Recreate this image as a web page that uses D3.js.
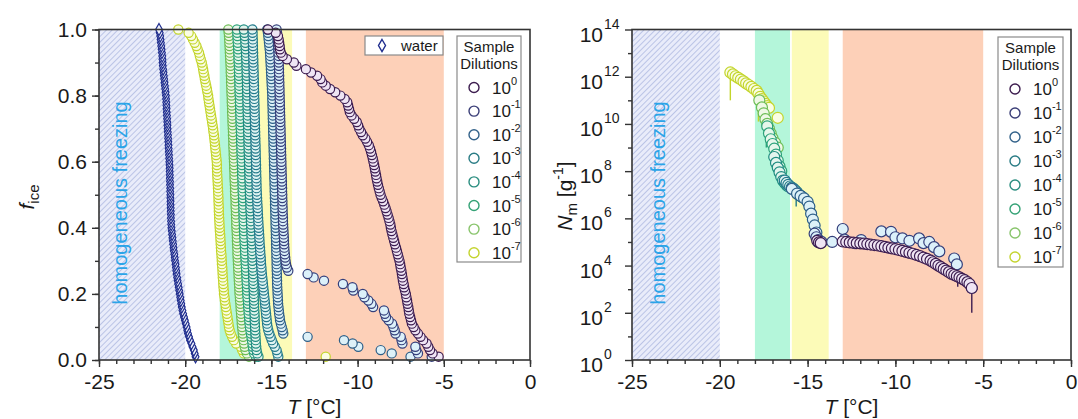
<!DOCTYPE html>
<html>
<head>
<meta charset="utf-8">
<script src="https://cdn.jsdelivr.net/npm/d3@7"></script>
<style>
  html, body { margin: 0; padding: 0; background: #fff; }
  svg { display: block; font-family: Arial, "Liberation Sans", sans-serif; }
</style>
</head>
<body>
<svg id="chart" width="1078" height="419"></svg>
<script>
// ---------- data ----------
// dilution labels (exponents of 10)
const dilutionExponents = ["0", "-1", "-2", "-3", "-4", "-5", "-6", "-7"];

// freezing temperatures of individual droplets (°C), warmest first
const waterTemps = [-19.40,-19.45,-19.50,-19.58,-19.64,-19.72,-19.78,-19.84,-19.88,-19.92,
  -19.97,-20.02,-20.07,-20.12,-20.16,-20.20,-20.23,-20.26,-20.29,-20.32,
  -20.35,-20.38,-20.41,-20.44,-20.47,-20.50,-20.52,-20.54,-20.56,-20.59,
  -20.61,-20.63,-20.66,-20.68,-20.70,-20.72,-20.74,-20.76,-20.78,-20.80,
  -20.81,-20.82,-20.83,-20.83,-20.84,-20.84,-20.85,-20.85,-20.86,-20.86,
  -20.87,-20.87,-20.88,-20.88,-20.89,-20.89,-20.90,-20.90,-20.91,-20.92,
  -20.93,-20.94,-20.95,-20.96,-20.97,-20.98,-20.99,-21.00,-21.01,-21.02,
  -21.03,-21.04,-21.05,-21.06,-21.07,-21.08,-21.09,-21.10,-21.11,-21.12,
  -21.14,-21.16,-21.18,-21.20,-21.22,-21.24,-21.26,-21.28,-21.30,-21.31,
  -21.32,-21.33,-21.35,-21.37,-21.39,-21.41,-21.43,-21.45,-21.48,-21.52];

const temps_d0 = [-5.30,-5.65,-5.80,-5.90,-6.00,-6.20,-6.35,-6.50,-6.65,-6.75,
  -6.85,-6.90,-6.95,-7.00,-7.03,-7.06,-7.10,-7.13,-7.17,-7.20,
  -7.25,-7.30,-7.33,-7.37,-7.40,-7.43,-7.46,-7.50,-7.53,-7.57,
  -7.62,-7.67,-7.72,-7.77,-7.83,-7.88,-7.93,-7.98,-8.03,-8.07,
  -8.10,-8.15,-8.20,-8.26,-8.32,-8.38,-8.45,-8.52,-8.60,-8.67,
  -8.72,-8.77,-8.82,-8.86,-8.90,-8.93,-8.97,-9.00,-9.04,-9.08,
  -9.12,-9.17,-9.22,-9.28,-9.35,-9.45,-9.55,-9.70,-9.80,-9.90,
  -9.97,-10.05,-10.20,-10.35,-10.45,-10.50,-10.55,-10.60,-10.75,-11.00,
  -11.30,-11.60,-11.85,-12.05,-12.15,-12.35,-12.70,-13.00,-13.55,-13.70,
  -14.10,-14.35,-14.45,-14.50,-14.52,-14.55,-14.58,-14.62,-14.75,-15.20];

const temps_d1 = [-5.70,-6.50,-6.60,-6.65,-7.40,-7.45,-7.50,-7.80,-7.85,-7.92,
  -8.00,-8.20,-8.35,-8.42,-8.47,-9.10,-9.20,-9.38,-9.60,-9.70,
  -10.25,-10.30,-10.85,-11.95,-12.55,-12.90,-14.02,-14.10,-14.15,-14.18,
  -14.20,-14.22,-14.24,-14.25,-14.26,-14.27,-14.28,-14.29,-14.30,-14.31,
  -14.32,-14.33,-14.33,-14.34,-14.35,-14.35,-14.36,-14.36,-14.37,-14.37,
  -14.38,-14.38,-14.39,-14.39,-14.40,-14.40,-14.41,-14.41,-14.42,-14.42,
  -14.43,-14.43,-14.44,-14.44,-14.45,-14.45,-14.46,-14.46,-14.47,-14.47,
  -14.48,-14.48,-14.49,-14.49,-14.50,-14.50,-14.51,-14.51,-14.52,-14.52,
  -14.53,-14.53,-14.54,-14.54,-14.55,-14.55,-14.56,-14.56,-14.57,-14.57,
  -14.58,-14.58,-14.59,-14.60,-14.61,-14.62,-14.63,-14.65,-14.67,-14.70];

const temps_d2 = [-6.93,-8.02,-8.66,-9.96,-10.29,-10.79,-12.90,-14.31,-14.35,-14.40,
  -14.45,-14.50,-14.52,-14.55,-14.57,-14.59,-14.61,-14.62,-14.63,-14.64,
  -14.65,-14.66,-14.67,-14.67,-14.68,-14.68,-14.69,-14.69,-14.70,-14.70,
  -14.71,-14.71,-14.72,-14.72,-14.73,-14.73,-14.74,-14.74,-14.75,-14.75,
  -14.76,-14.76,-14.77,-14.77,-14.78,-14.78,-14.79,-14.79,-14.80,-14.80,
  -14.81,-14.81,-14.82,-14.82,-14.83,-14.83,-14.84,-14.84,-14.85,-14.85,
  -14.86,-14.86,-14.87,-14.87,-14.88,-14.88,-14.89,-14.89,-14.90,-14.90,
  -14.91,-14.91,-14.92,-14.92,-14.93,-14.93,-14.94,-14.94,-14.95,-14.95,
  -14.96,-14.97,-14.98,-14.99,-15.00,-15.01,-15.02,-15.03,-15.04,-15.05,
  -15.06,-15.07,-15.08,-15.10,-15.12,-15.14,-15.16,-15.18,-15.20,-15.24];

const temps_d3 = [-14.60,-14.65,-14.70,-14.80,-14.90,-14.98,-15.05,-15.12,-15.18,-15.22,
  -15.25,-15.27,-15.29,-15.31,-15.33,-15.35,-15.37,-15.39,-15.41,-15.43,
  -15.45,-15.47,-15.49,-15.51,-15.53,-15.55,-15.57,-15.58,-15.60,-15.61,
  -15.62,-15.64,-15.65,-15.66,-15.68,-15.69,-15.70,-15.71,-15.72,-15.74,
  -15.75,-15.76,-15.77,-15.78,-15.79,-15.80,-15.81,-15.82,-15.83,-15.84,
  -15.85,-15.86,-15.86,-15.87,-15.87,-15.88,-15.88,-15.89,-15.89,-15.90,
  -15.90,-15.91,-15.91,-15.92,-15.92,-15.93,-15.93,-15.94,-15.94,-15.95,
  -15.95,-15.96,-15.96,-15.97,-15.97,-15.98,-15.98,-15.99,-15.99,-16.00,
  -16.00,-16.01,-16.01,-16.02,-16.02,-16.03,-16.03,-16.04,-16.04,-16.05,
  -16.05,-16.06,-16.06,-16.07,-16.07,-16.08,-16.08,-16.09,-16.09,-16.10];

const temps_d4 = [-15.75,-15.82,-15.86,-15.88,-15.90,-15.91,-15.92,-15.93,-15.94,-15.95,
  -15.96,-15.97,-15.97,-15.98,-15.99,-16.00,-16.00,-16.01,-16.02,-16.02,
  -16.03,-16.04,-16.04,-16.05,-16.06,-16.06,-16.07,-16.08,-16.09,-16.10,
  -16.10,-16.11,-16.12,-16.13,-16.13,-16.14,-16.15,-16.16,-16.16,-16.17,
  -16.18,-16.19,-16.19,-16.20,-16.21,-16.22,-16.22,-16.23,-16.24,-16.25,
  -16.25,-16.26,-16.26,-16.27,-16.28,-16.28,-16.29,-16.29,-16.30,-16.30,
  -16.31,-16.31,-16.32,-16.32,-16.33,-16.33,-16.34,-16.34,-16.35,-16.35,
  -16.36,-16.36,-16.37,-16.37,-16.38,-16.38,-16.39,-16.39,-16.40,-16.40,
  -16.41,-16.41,-16.42,-16.42,-16.43,-16.43,-16.44,-16.44,-16.45,-16.45,
  -16.46,-16.47,-16.48,-16.49,-16.50,-16.51,-16.52,-16.54,-16.56,-16.60];

const temps_d5 = [-15.90,-16.00,-16.05,-16.08,-16.10,-16.13,-16.16,-16.19,-16.22,-16.25,
  -16.27,-16.29,-16.30,-16.32,-16.33,-16.35,-16.36,-16.37,-16.39,-16.40,
  -16.41,-16.42,-16.43,-16.44,-16.45,-16.46,-16.47,-16.48,-16.49,-16.50,
  -16.51,-16.52,-16.53,-16.54,-16.55,-16.56,-16.57,-16.58,-16.59,-16.60,
  -16.60,-16.61,-16.62,-16.62,-16.63,-16.63,-16.64,-16.65,-16.65,-16.66,
  -16.67,-16.67,-16.68,-16.68,-16.69,-16.70,-16.70,-16.71,-16.71,-16.72,
  -16.73,-16.73,-16.74,-16.74,-16.75,-16.76,-16.76,-16.77,-16.77,-16.78,
  -16.79,-16.79,-16.80,-16.80,-16.81,-16.82,-16.82,-16.83,-16.83,-16.84,
  -16.85,-16.85,-16.86,-16.86,-16.87,-16.88,-16.88,-16.89,-16.89,-16.90,
  -16.91,-16.91,-16.92,-16.93,-16.94,-16.95,-16.96,-16.97,-16.98,-17.00];

const temps_d6 = [-16.30,-16.42,-16.50,-16.55,-16.58,-16.61,-16.64,-16.66,-16.68,-16.70,
  -16.72,-16.73,-16.75,-16.76,-16.78,-16.79,-16.80,-16.82,-16.83,-16.85,
  -16.86,-16.87,-16.88,-16.89,-16.90,-16.91,-16.92,-16.93,-16.94,-16.95,
  -16.96,-16.97,-16.97,-16.98,-16.99,-17.00,-17.00,-17.01,-17.02,-17.03,
  -17.04,-17.04,-17.05,-17.06,-17.06,-17.07,-17.08,-17.08,-17.09,-17.10,
  -17.11,-17.11,-17.12,-17.13,-17.14,-17.14,-17.15,-17.16,-17.16,-17.17,
  -17.18,-17.19,-17.19,-17.20,-17.21,-17.21,-17.22,-17.23,-17.23,-17.24,
  -17.25,-17.26,-17.26,-17.27,-17.28,-17.28,-17.29,-17.30,-17.30,-17.31,
  -17.32,-17.32,-17.33,-17.34,-17.34,-17.35,-17.36,-17.36,-17.37,-17.38,
  -17.39,-17.40,-17.41,-17.42,-17.43,-17.44,-17.45,-17.46,-17.48,-17.50];

const temps_d7 = [-11.85,-16.60,-16.70,-16.78,-17.05,-17.18,-17.28,-17.36,-17.42,-17.46,
  -17.49,-17.52,-17.55,-17.58,-17.61,-17.64,-17.67,-17.70,-17.72,-17.75,
  -17.76,-17.78,-17.79,-17.80,-17.82,-17.83,-17.84,-17.85,-17.87,-17.88,
  -17.89,-17.90,-17.92,-17.93,-17.94,-17.95,-17.96,-17.97,-17.99,-18.00,
  -18.01,-18.02,-18.03,-18.04,-18.05,-18.05,-18.06,-18.07,-18.07,-18.08,
  -18.09,-18.10,-18.11,-18.12,-18.13,-18.14,-18.15,-18.16,-18.16,-18.17,
  -18.19,-18.21,-18.23,-18.25,-18.27,-18.29,-18.31,-18.33,-18.36,-18.38,
  -18.41,-18.44,-18.47,-18.50,-18.53,-18.56,-18.59,-18.62,-18.65,-18.67,
  -18.71,-18.74,-18.78,-18.82,-18.86,-18.89,-18.93,-18.96,-19.00,-19.04,
  -19.10,-19.15,-19.20,-19.28,-19.35,-19.45,-19.55,-19.65,-19.80,-20.40];

const freezeTemps = [temps_d0, temps_d1, temps_d2, temps_d3, temps_d4, temps_d5, temps_d6, temps_d7];

// ice-nucleating mass sites: [T (°C), log10 Nm (g^-1)] per dilution
const nm_d0 = [[-14.45,5.05],[-14.35,4.98],[-14.25,4.95],[-13.0,5.02],[-12.8,5.0],[-12.6,4.98],[-12.4,4.97],[-12.2,4.95],
  [-12.0,4.94],[-11.8,4.93],[-11.6,4.91],[-11.4,4.89],[-11.2,4.87],[-11.0,4.85],[-10.8,4.82],[-10.6,4.79],
  [-10.4,4.76],[-10.2,4.73],[-10.0,4.70],[-9.8,4.66],[-9.6,4.62],[-9.4,4.58],[-9.2,4.54],[-9.0,4.50],
  [-8.8,4.45],[-8.6,4.40],[-8.4,4.34],[-8.2,4.28],[-8.0,4.21],[-7.85,4.14],[-7.7,4.07],[-7.55,4.00],
  [-7.4,3.93],[-7.25,3.86],[-7.1,3.79],[-6.95,3.72],[-6.8,3.65],[-6.65,3.60],[-6.5,3.55],[-6.35,3.50],
  [-6.2,3.44],[-6.05,3.38],[-5.9,3.30],[-5.78,3.22],[-5.65,3.05]];
const nm_d1 = [[-14.6,5.35],[-14.5,5.2],[-14.4,5.08],[-14.2,5.0],[-13.6,5.0],[-13.0,5.55],[-12.9,5.1],
  [-12.3,4.95],[-11.95,5.08],[-10.8,5.45],[-10.25,5.43],[-10.0,5.2],[-9.6,5.15],[-9.2,5.05],[-8.65,5.15],
  [-8.4,4.95],[-8.07,5.0],[-7.8,4.78],[-7.5,4.6],[-6.65,4.3],[-6.5,4.05],[-5.65,3.05]];
const nm_d2 = [[-15.9,7.25],[-15.6,7.05],[-15.4,6.95],[-15.2,6.85],[-15.0,6.7],[-14.9,6.5],[-14.8,6.2],
  [-14.7,5.95],[-14.6,5.7],[-14.5,5.4],[-14.45,5.15],[-14.4,5.0],[-14.3,5.0]];
const nm_d3 = [[-16.3,7.6],[-16.2,7.5],[-16.1,7.42],[-16.0,7.35],[-15.9,7.3],[-15.8,7.25],[-15.7,7.18],
  [-15.6,7.1],[-15.5,7.0],[-15.4,6.95],[-15.3,6.9]];
const nm_d4 = [[-16.9,8.6],[-16.8,8.35],[-16.7,8.15],[-16.6,7.95],[-16.5,7.75],[-16.4,7.6],[-16.3,7.5],
  [-16.2,7.42],[-16.1,7.35]];
const nm_d5 = [[-17.3,9.9],[-17.2,9.6],[-17.1,9.35],[-17.0,9.15],[-16.9,8.95],[-16.8,8.7],[-16.7,8.45],
  [-16.6,8.2],[-16.5,8.0]];
const nm_d6 = [[-17.75,11.0],[-17.6,10.7],[-17.5,10.45],[-17.4,10.2],[-17.3,10.0],[-17.2,9.8],[-17.1,9.6],
  [-17.0,9.4],[-16.85,9.2],[-16.7,9.0]];
const nm_d7 = [[-19.4,12.18],[-19.25,12.1],[-19.1,12.02],[-18.95,11.95],[-18.8,11.88],[-18.65,11.8],
  [-18.5,11.72],[-18.35,11.65],[-18.2,11.57],[-18.05,11.48],[-17.9,11.4],[-17.8,11.28],[-17.7,11.15],
  [-17.6,11.05],[-17.5,10.95],[-17.4,10.85],[-17.3,10.75],[-17.2,10.68],[-16.7,10.26]];
const nmSeries = [nm_d0, nm_d1, nm_d2, nm_d3, nm_d4, nm_d5, nm_d6, nm_d7];

// error bars: [dilution index, T, log10 lower, log10 upper]
const nmErrors = [[7,-19.4,11.0,12.18],[7,-17.8,10.1,11.2],[5,-17.35,9.0,9.6],[3,-15.65,6.5,6.9],
  [2,-13.75,4.8,5.05],[0,-6.45,3.1,3.7],[0,-5.65,2.0,3.05]];

// temperature regimes shaded behind the data
const hatchRange = [-25, -20];
const bands = [[-18, -16, "#b4f6da"], [-15.9, -13.8, "#fcfbb8"], [-13, -5, "#fdd0b8"]];

const xTicks = [-25, -20, -15, -10, -5, 0];
const fTicks = [0, 0.2, 0.4, 0.6, 0.8, 1.0];
const nmTickExps = [0, 2, 4, 6, 8, 10, 12, 14];

// ---------- styling ----------
const strokeColors = ["#3c1c50", "#343f7b", "#2d5f88", "#237a8b", "#1f8c80", "#2ba27a", "#6dbd55", "#c3d52b"];
const fillColors   = ["#efe5f4", "#dcf1fa", "#ddf1f8", "#e0f4f3", "#e3f5ee", "#e7f7eb", "#eff8e6", "#fafde4"];
const legendStroke = ["#3d1d4f", "#3b3f78", "#33628a", "#2a7c85", "#2b8e80", "#35a276", "#88c46b", "#c4d42f"];

const svg = d3.select("#chart");
const defs = svg.append("defs");
const pat = defs.append("pattern").attr("id", "hatch").attr("patternUnits", "userSpaceOnUse")
  .attr("width", 4).attr("height", 4).attr("patternTransform", "rotate(45)");
pat.append("rect").attr("width", 4).attr("height", 4).attr("fill", "#e9ecfa");
pat.append("line").attr("x1", 0).attr("y1", 0).attr("x2", 0).attr("y2", 4)
  .attr("stroke", "#a3aedb").attr("stroke-width", 1.3);

const plotTop = 29.5, plotBottom = 360;
const xL = d3.scaleLinear([-25, 0], [99, 530]);
const yL = d3.scaleLinear([0, 1], [plotBottom, plotTop]);
const xR = d3.scaleLinear([-25, 0], [632, 1071]);
const yR = d3.scaleLog([1, 1e14], [plotBottom, plotTop]);
const tickFont = 21;

function shading(g, x) {
  g.append("rect").attr("x", x(hatchRange[0])).attr("width", x(hatchRange[1]) - x(hatchRange[0]))
    .attr("y", plotTop).attr("height", plotBottom - plotTop).attr("fill", "url(#hatch)");
  bands.forEach(b => g.append("rect").attr("x", x(b[0])).attr("width", x(b[1]) - x(b[0]))
    .attr("y", plotTop).attr("height", plotBottom - plotTop).attr("fill", b[2]));
}

function frameAndXAxis(g, x) {
  const ax = g.append("g").attr("transform", `translate(0,${plotBottom})`)
    .call(d3.axisBottom(x).tickValues(d3.range(-25, 0.5, 1)).tickSize(4).tickFormat(""));
  ax.selectAll(".domain").remove();
  ax.selectAll("line").attr("stroke", "#333").attr("stroke-width", 1.4);
  const ax2 = g.append("g").attr("transform", `translate(0,${plotBottom})`)
    .call(d3.axisBottom(x).tickValues(xTicks).tickSize(7).tickPadding(7).tickFormat(d => String(d)));
  ax2.selectAll(".domain").remove();
  ax2.selectAll("line").attr("stroke", "#333").attr("stroke-width", 1.4);
  ax2.selectAll("text").attr("font-size", tickFont).attr("fill", "#1a1a1a").attr("font-family", "Arial, Liberation Sans");
  g.append("rect").attr("x", x(-25)).attr("y", plotTop).attr("width", x(0) - x(-25)).attr("height", plotBottom - plotTop)
    .attr("fill", "none").attr("stroke", "#333").attr("stroke-width", 1.6);
  g.append("text").attr("x", (x(-25) + x(0)) / 2).attr("y", 414).attr("text-anchor", "middle")
    .attr("font-size", 21).attr("fill", "#1a1a1a")
    .call(t => { t.append("tspan").attr("font-style", "italic").text("T"); t.append("tspan").text(" [°C]"); });
}

function homogeneousLabel(g, x) {
  g.append("text").attr("transform", `translate(${x},203) rotate(-90)`).attr("text-anchor", "middle")
    .attr("font-size", 20).attr("fill", "#2ba4e8").text("homogeneous freezing");
}

function dilutionLegend(g, x0, y0, w, h, rowY0, rowStep) {
  g.append("rect").attr("x", x0).attr("y", y0).attr("width", w).attr("height", h)
    .attr("fill", "#fff").attr("stroke", "#8a8a8a").attr("stroke-width", 1.2);
  g.append("text").attr("x", x0 + w / 2).attr("y", y0 + 16).attr("text-anchor", "middle")
    .attr("font-size", 15).attr("fill", "#1a1a1a").text("Sample");
  g.append("text").attr("x", x0 + w / 2).attr("y", y0 + 33).attr("text-anchor", "middle")
    .attr("font-size", 15).attr("fill", "#1a1a1a").text("Dilutions");
  dilutionExponents.forEach((e, i) => {
    const cy = rowY0 + i * rowStep;
    g.append("circle").attr("cx", x0 + 17).attr("cy", cy).attr("r", 5)
      .attr("fill", "#fff").attr("stroke", legendStroke[i]).attr("stroke-width", 1.4);
    const t = g.append("text").attr("x", x0 + 35).attr("y", cy + 6).attr("font-size", 17).attr("fill", "#1a1a1a");
    t.append("tspan").text("10");
    t.append("tspan").attr("dy", -9).attr("font-size", 11).text(e);
  });
}

// ---------- left panel: frozen fraction ----------
const gL = svg.append("g");
shading(gL, xL);
homogeneousLabel(gL, 127);

// water reference droplets
gL.append("g").selectAll("path").data(waterTemps).join("path")
  .attr("transform", (d, i) => `translate(${xL(d)},${yL((i + 1) / waterTemps.length)})`)
  .attr("d", "M0,-6L3.4,0L0,6L-3.4,0Z").attr("fill", "#f0f2fc").attr("stroke", "#1f2d8e").attr("stroke-width", 1.2);

// dilution series, most dilute drawn first
for (let k = freezeTemps.length - 1; k >= 0; k--) {
  const temps = freezeTemps[k];
  gL.append("g").selectAll("circle").data(temps).join("circle")
    .attr("cx", d => xL(d)).attr("cy", (d, i) => yL((i + 1) / temps.length))
    .attr("r", 4.6).attr("fill", fillColors[k]).attr("stroke", strokeColors[k]).attr("stroke-width", 1.2);
}

// y axis (left)
const ayMinor = gL.append("g").attr("transform", `translate(${xL(-25)},0)`)
  .call(d3.axisLeft(yL).tickValues(d3.range(0, 1.001, 0.1)).tickSize(4).tickFormat(""));
ayMinor.selectAll(".domain").remove();
ayMinor.selectAll("line").attr("stroke", "#333").attr("stroke-width", 1.4);
const ay = gL.append("g").attr("transform", `translate(${xL(-25)},0)`)
  .call(d3.axisLeft(yL).tickValues(fTicks).tickSize(7).tickPadding(5).tickFormat(d3.format(".1f")));
ay.selectAll(".domain").remove();
ay.selectAll("line").attr("stroke", "#333").attr("stroke-width", 1.4);
ay.selectAll("text").attr("font-size", tickFont).attr("fill", "#1a1a1a").attr("font-family", "Arial, Liberation Sans");
frameAndXAxis(gL, xL);

gL.append("text").attr("transform", "translate(34,197) rotate(-90)").attr("text-anchor", "middle")
  .attr("font-size", 21).attr("fill", "#1a1a1a")
  .call(t => {
    t.append("tspan").attr("font-style", "italic").text("f");
    t.append("tspan").attr("dy", 5).attr("font-size", 15).text("ice");
  });

// water legend
gL.append("rect").attr("x", 365).attr("y", 36).attr("width", 78).attr("height", 19)
  .attr("fill", "#fff").attr("stroke", "#8a8a8a").attr("stroke-width", 1.2);
gL.append("path").attr("transform", "translate(382,45.5)").attr("d", "M0,-6L3.5,0L0,6L-3.5,0Z")
  .attr("fill", "#fff").attr("stroke", "#1f2d8e").attr("stroke-width", 1.4);
gL.append("text").attr("x", 401).attr("y", 51).attr("font-size", 15).attr("fill", "#1a1a1a").text("water");

dilutionLegend(gL, 457, 36, 64, 226, 87.5, 23.6);

// ---------- right panel: Nm spectrum ----------
const gR = svg.append("g");
shading(gR, xR);
homogeneousLabel(gR, 665);

nmErrors.forEach(e => {
  gR.append("line").attr("x1", xR(e[1])).attr("x2", xR(e[1]))
    .attr("y1", yR(Math.pow(10, e[2]))).attr("y2", yR(Math.pow(10, e[3])))
    .attr("stroke", strokeColors[e[0]]).attr("stroke-width", 1.4);
});

for (let k = nmSeries.length - 1; k >= 0; k--) {
  gR.append("g").selectAll("circle").data(nmSeries[k]).join("circle")
    .attr("cx", d => xR(d[0])).attr("cy", d => yR(Math.pow(10, d[1])))
    .attr("r", 5.5).attr("fill", fillColors[k]).attr("stroke", strokeColors[k]).attr("stroke-width", 1.2);
}

const ryMinor = gR.append("g").attr("transform", `translate(${xR(-25)},0)`)
  .call(d3.axisLeft(yR).tickValues(d3.range(1, 14, 2).map(e => Math.pow(10, e))).tickSize(4).tickFormat(""));
ryMinor.selectAll(".domain").remove();
ryMinor.selectAll("line").attr("stroke", "#333").attr("stroke-width", 1.4);
const ry = gR.append("g").attr("transform", `translate(${xR(-25)},0)`)
  .call(d3.axisLeft(yR).tickValues(nmTickExps.map(e => Math.pow(10, e))).tickSize(7).tickFormat(""));
ry.selectAll(".domain").remove();
ry.selectAll("line").attr("stroke", "#333").attr("stroke-width", 1.4);
nmTickExps.forEach(e => {
  gR.append("text").attr("x", xR(-25) - 29).attr("y", yR(Math.pow(10, e)) + 12)
    .attr("text-anchor", "end").attr("font-size", tickFont).attr("fill", "#1a1a1a").text("10");
  gR.append("text").attr("x", xR(-25) - 28).attr("y", yR(Math.pow(10, e)) - 1)
    .attr("font-size", 14).attr("fill", "#1a1a1a").text(e);
});
frameAndXAxis(gR, xR);

gR.append("text").attr("transform", "translate(572,196) rotate(-90)").attr("text-anchor", "middle")
  .attr("font-size", 21).attr("fill", "#1a1a1a")
  .call(t => {
    t.append("tspan").attr("font-style", "italic").text("N");
    t.append("tspan").attr("dy", 5).attr("font-size", 15).text("m");
    t.append("tspan").attr("dy", -5).text(" [g");
    t.append("tspan").attr("dy", -9).attr("font-size", 14).text("-1");
    t.append("tspan").attr("dy", 9).text("]");
  });

dilutionLegend(gR, 998, 37, 65, 230, 89, 24);
</script>
</body>
</html>
